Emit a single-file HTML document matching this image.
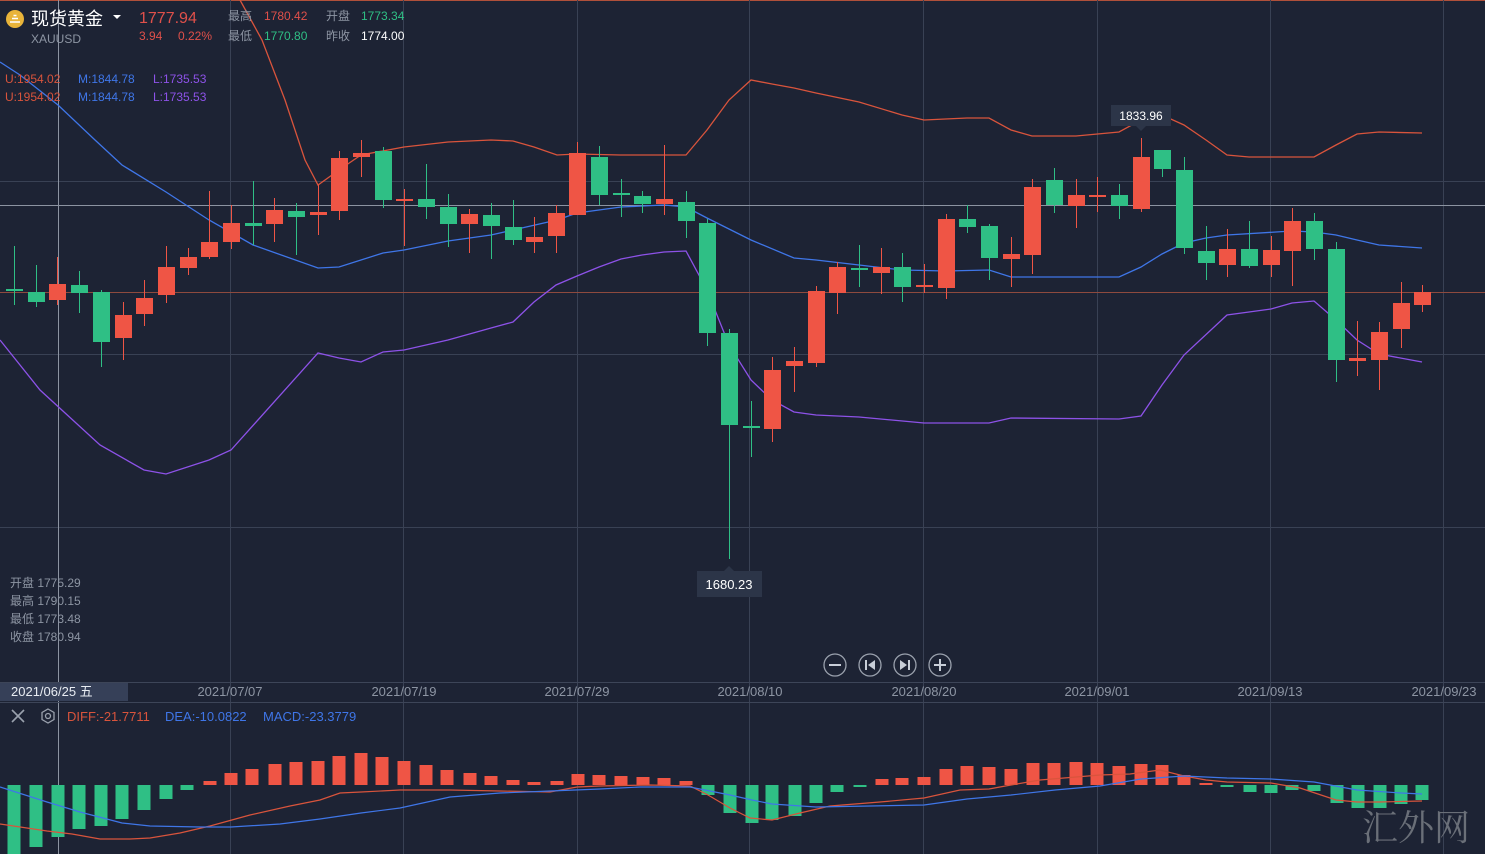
<!DOCTYPE html>
<html><head><meta charset="utf-8">
<style>
html,body{margin:0;padding:0;background:#1d2334;}
body{width:1485px;height:854px;overflow:hidden;position:relative;font-family:"Liberation Sans","Noto Sans CJK SC",sans-serif;}
svg{position:absolute;left:0;top:0;}
</style></head>
<body>
<svg id="s" width="1485" height="854" viewBox="0 0 1485 854" xmlns="http://www.w3.org/2000/svg" font-family="Liberation Sans, Noto Sans CJK SC, sans-serif">
<rect width="1485" height="854" fill="#1d2334"/>
<line x1="0" y1="0.5" x2="1485" y2="0.5" stroke="#b0503a" stroke-width="1"/>
<g id="grid" stroke="#394154" stroke-width="1"></g>
<line x1="0" y1="292.5" x2="1485" y2="292.5" stroke="#8e4a3e" stroke-width="1"/>
<line x1="0" y1="205.5" x2="1485" y2="205.5" stroke="#8c93a1" stroke-width="1"/>
<line x1="58.5" y1="0" x2="58.5" y2="854" stroke="#8c93a1" stroke-width="1"/>
<g id="bands" fill="none" stroke-width="1.3"></g>
<g id="candles"></g>
<g id="macd"></g>
<!-- axis -->
<line x1="0" y1="682.5" x2="1485" y2="682.5" stroke="#3d4558"/>
<line x1="0" y1="702.5" x2="1485" y2="702.5" stroke="#3d4558"/>
<rect x="0" y="683" width="128" height="18" fill="#364058"/>
<text x="11" y="696" font-size="13" fill="#e8ecf2">2021/06/25 五</text>
<g font-size="13" fill="#8d95a3" text-anchor="middle">
<text x="230" y="696">2021/07/07</text>
<text x="404" y="696">2021/07/19</text>
<text x="577" y="696">2021/07/29</text>
<text x="750" y="696">2021/08/10</text>
<text x="924" y="696">2021/08/20</text>
<text x="1097" y="696">2021/09/01</text>
<text x="1270" y="696">2021/09/13</text>
<text x="1444" y="696">2021/09/23</text>
</g>
<!-- header -->
<circle cx="15" cy="19" r="9" fill="#e9b43a"/>
<path d="M10 22 h10 M12 18.5 h6 M13.5 15.5 h3" stroke="#fff" stroke-width="1.6"/>
<text x="31" y="25" font-size="18" fill="#ffffff">现货黄金</text>
<path d="M113 15 l4 4 l4 -4z" fill="#fff"/>
<text x="31" y="43" font-size="12" fill="#8d95a3">XAUUSD</text>
<text x="139" y="23" font-size="16" fill="#e0504a">1777.94</text>
<text x="139" y="40" font-size="12" fill="#e0504a">3.94</text>
<text x="178" y="40" font-size="12" fill="#e0504a">0.22%</text>
<g font-size="12">
<text x="228" y="20" fill="#8d95a3">最高</text><text x="264" y="20" fill="#e0504a">1780.42</text>
<text x="326" y="20" fill="#8d95a3">开盘</text><text x="361" y="20" fill="#2fbf85">1773.34</text>
<text x="228" y="40" fill="#8d95a3">最低</text><text x="264" y="40" fill="#2fbf85">1770.80</text>
<text x="326" y="40" fill="#8d95a3">昨收</text><text x="361" y="40" fill="#ffffff">1774.00</text>
<text x="5" y="83" fill="#d9543c">U:1954.02</text><text x="78" y="83" fill="#3f76e8">M:1844.78</text><text x="153" y="83" fill="#8d52e8">L:1735.53</text>
<text x="5" y="101" fill="#d9543c">U:1954.02</text><text x="78" y="101" fill="#3f76e8">M:1844.78</text><text x="153" y="101" fill="#8d52e8">L:1735.53</text>
</g>
<g font-size="12" fill="#8d95a3">
<text x="10" y="587">开盘 1775.29</text>
<text x="10" y="605">最高 1790.15</text>
<text x="10" y="623">最低 1773.48</text>
<text x="10" y="641">收盘 1780.94</text>
</g>
<!-- labels -->
<rect x="1111" y="105" width="60" height="21" fill="#2c3548"/>
<path d="M1136 126 l5 5 l5 -5z" fill="#2c3548"/>
<text x="1141" y="120" font-size="12" fill="#ffffff" text-anchor="middle">1833.96</text>
<rect x="697" y="571" width="65" height="26" fill="#2c3548"/>
<path d="M724 571 l5 -5 l5 5z" fill="#2c3548"/>
<text x="729" y="589" font-size="13" fill="#ffffff" text-anchor="middle">1680.23</text>
<!-- buttons -->
<g fill="none" stroke="#9aa1ad" stroke-width="1.3">
<circle cx="835" cy="665" r="11"/><circle cx="870" cy="665" r="11"/><circle cx="905" cy="665" r="11"/><circle cx="940" cy="665" r="11"/>
</g>
<g fill="#c8ced8">
<rect x="829" y="664" width="12" height="2"/>
<rect x="865" y="660" width="2" height="10"/><path d="M875 660 v10 l-7 -5z"/>
<rect x="908" y="660" width="2" height="10"/><path d="M900 660 v10 l7 -5z"/>
<rect x="934" y="664" width="12" height="2"/><rect x="939" y="659" width="2" height="12"/>
</g>
<!-- macd header -->
<path d="M12 710 l12 12 M24 710 l-12 12" stroke="#9aa1ad" stroke-width="1.6"/>
<path d="M48 709 l6 3.5 v7 l-6 3.5 l-6 -3.5 v-7z" fill="none" stroke="#9aa1ad" stroke-width="1.3"/>
<circle cx="48" cy="716" r="2.5" fill="none" stroke="#9aa1ad" stroke-width="1.3"/>
<g font-size="13">
<text x="67" y="721" fill="#d9543c">DIFF:-21.7711</text>
<text x="165" y="721" fill="#3f76e8">DEA:-10.0822</text>
<text x="263" y="721" fill="#3f76e8">MACD:-23.3779</text>
</g>
<text x="1362" y="840" font-size="36" fill="#6a6f78" font-family="Liberation Serif, Noto Serif CJK SC, serif">汇外网</text>
</svg>
<script>
var NS="http://www.w3.org/2000/svg";
function el(p,t,a){var e=document.createElementNS(NS,t);for(var k in a)e.setAttribute(k,a[k]);p.appendChild(e);return e;}
var g=document.getElementById('grid');
[181,354,527].forEach(function(y){el(g,'line',{x1:0,y1:y+.5,x2:1485,y2:y+.5});});
[230,403,577,749,923,1097,1270,1443].forEach(function(x){el(g,'line',{x1:x+.5,y1:0,x2:x+.5,y2:854});});
var R="#ef5545",G="#2fbf85";
// x, o, c, h, l, color(r/g) ; top body,bottom body
var C=[
[14,289,289,246,305,'g'],[36,292,302,265,307,'g'],[57,284,300,257,305,'r'],[79,285,293,271,313,'g'],
[101,292,342,290,367,'g'],[123,315,338,302,360,'r'],[144,298,314,280,326,'r'],[166,267,295,246,303,'r'],
[188,257,268,248,275,'r'],[209,242,257,191,259,'r'],[231,223,242,205,249,'r'],[253,223,226,181,245,'g'],
[274,210,224,198,242,'r'],[296,211,217,203,255,'g'],[318,212,215,185,235,'r'],[339,158,211,151,220,'r'],
[361,153,157,140,177,'r'],[383,151,200,147,208,'g'],[404,199,200,189,246,'r'],[426,199,207,164,219,'g'],
[448,207,224,194,247,'g'],[469,214,224,209,253,'r'],[491,215,226,203,259,'g'],[513,227,240,200,245,'g'],
[534,237,242,217,253,'r'],[556,213,236,205,253,'r'],[577,153,215,142,215,'r'],[599,157,195,146,205,'g'],
[621,193,195,179,217,'g'],[642,196,204,191,213,'g'],[664,199,204,145,215,'r'],[686,202,221,191,238,'g'],
[707,223,333,219,346,'g'],[729,333,425,329,559,'g'],[751,426,428,401,457,'g'],[772,370,429,357,442,'r'],
[794,361,366,347,392,'r'],[816,291,363,286,367,'r'],[837,267,293,262,314,'r'],[859,268,270,245,287,'g'],
[881,267,273,248,294,'r'],[902,267,287,253,302,'g'],[924,285,287,264,293,'r'],[946,219,288,214,299,'r'],
[967,219,227,205,233,'g'],[989,226,258,224,280,'g'],[1011,254,259,237,287,'r'],[1032,187,255,179,274,'r'],
[1054,180,205,168,213,'g'],[1076,195,206,179,228,'r'],[1097,195,196,177,212,'r'],[1119,195,206,184,219,'g'],
[1141,157,209,138,212,'r'],[1162,150,169,150,177,'g'],[1184,170,248,157,254,'g'],[1206,251,263,226,280,'g'],
[1227,249,265,229,277,'r'],[1249,249,266,221,268,'g'],[1271,250,265,236,277,'r'],[1292,221,251,208,286,'r'],
[1314,221,249,213,260,'g'],[1336,249,360,242,382,'g'],[1357,358,361,321,376,'r'],[1379,332,360,322,390,'r'],
[1401,303,329,282,348,'r'],[1422,292,305,285,312,'r']];
var cg=document.getElementById('candles');
C.forEach(function(c){var col=c[5]=='r'?R:G;
el(cg,'line',{x1:c[0]+.5,y1:c[3],x2:c[0]+.5,y2:c[4],stroke:col,'stroke-width':1});
var h=Math.max(2,c[2]-c[1]);el(cg,'rect',{x:c[0]-8,y:c[1],width:17,height:h,fill:col});});
function pl(p,pts,col,w){el(p,'polyline',{points:pts.map(function(q){return q.join(',')}).join(' '),stroke:col,'stroke-width':w||1.3,fill:'none'});}
var b=document.getElementById('bands');
pl(b,[[240,0],[262,40],[285,100],[305,160],[318,185],[339,170],[361,155],[404,147],[448,142],[491,140],[513,141],[534,147],[557,155],[577,154],[620,155],[686,155],[707,130],[729,100],[751,80],[772,84],[794,88],[816,93],[859,102],[902,115],[924,120],[967,118],[989,118],[1011,130],[1032,136],[1076,136],[1119,132],[1141,120],[1162,115],[1184,125],[1206,140],[1227,155],[1249,157],[1314,157],[1336,145],[1357,134],[1379,132],[1422,133]],"#d9543c");
pl(b,[[0,62],[20,75],[58,105],[95,140],[122,165],[166,192],[209,220],[253,245],[318,268],[339,267],[383,253],[404,250],[448,241],[491,235],[513,230],[557,220],[577,213],[621,207],[664,205],[686,207],[707,218],[751,240],[794,258],[816,260],[859,265],[902,270],[946,271],[989,270],[1011,277],[1119,277],[1141,267],[1162,254],[1184,243],[1206,238],[1227,235],[1292,231],[1314,232],[1336,235],[1357,240],[1379,245],[1422,248]],"#3f76e8");
pl(b,[[0,340],[40,390],[100,445],[144,470],[166,474],[209,460],[231,450],[318,353],[339,358],[361,362],[383,352],[404,350],[448,340],[491,328],[513,322],[534,302],[556,285],[577,276],[599,267],[621,259],[642,255],[664,252],[686,251],[707,290],[729,345],[751,380],[772,400],[794,412],[816,415],[859,417],[924,423],[989,423],[1011,418],[1119,419],[1141,416],[1162,385],[1184,355],[1227,315],[1249,312],[1271,309],[1292,303],[1314,301],[1336,320],[1357,340],[1379,354],[1422,362]],"#8d52e8");
var m=document.getElementById('macd');var Z=785;
var M=[[14,858],[36,847],[58,837],[79,829],[101,826],[122,819],[144,810],[166,799],[187,790],[210,781],[231,773],[252,769],[275,764],[296,762],[318,761],[339,756],[361,753],[382,757],[404,761],[426,765],[447,770],[470,773],[491,776],[513,780],[534,782],[557,781],[578,774],[599,775],[621,776],[643,777],[664,778],[686,781],[708,795],[730,813],[752,823],[772,820],[795,816],[816,803],[837,792],[860,787],[882,779],[902,778],[924,777],[946,769],[967,766],[989,767],[1011,769],[1033,763],[1054,763],[1076,762],[1097,763],[1119,766],[1141,764],[1162,765],[1184,775],[1206,783],[1227,787],[1250,792],[1271,793],[1292,790],[1314,791],[1337,803],[1358,808],[1380,808],[1401,804],[1422,800]];
M.forEach(function(q){var up=q[1]<Z;el(m,'rect',{x:q[0]-6.5,y:up?q[1]:Z,width:13,height:Math.max(2,Math.abs(q[1]-Z)),fill:up?R:G});});
pl(m,[[0,824],[47,831],[72,834],[100,839],[130,839],[150,838],[180,833],[210,826],[250,815],[290,806],[320,800],[340,793],[361,792],[400,790],[450,790],[500,791],[550,792],[577,787],[600,786],[650,785],[690,786],[708,795],[730,808],[750,818],[772,820],[800,813],[830,806],[880,802],[924,798],[960,790],[989,789],[1011,785],[1040,780],[1100,775],[1130,774],[1160,770],[1184,776],[1206,780],[1227,782],[1271,783],[1300,788],[1336,800],[1357,802],[1379,802],[1422,801]],"#d9543c",1.2);
pl(m,[[0,787],[47,802],[80,812],[122,823],[150,826],[200,827],[231,827],[280,824],[320,819],[361,813],[400,808],[450,797],[500,793],[550,791],[600,789],[640,787],[690,787],[730,795],[752,800],[772,804],[816,807],[870,806],[924,805],[967,799],[1011,795],[1055,790],[1100,786],[1141,779],[1184,776],[1227,778],[1271,779],[1314,782],[1357,790],[1401,793],[1422,794]],"#3f76e8",1.2);
</script>
</body></html>
